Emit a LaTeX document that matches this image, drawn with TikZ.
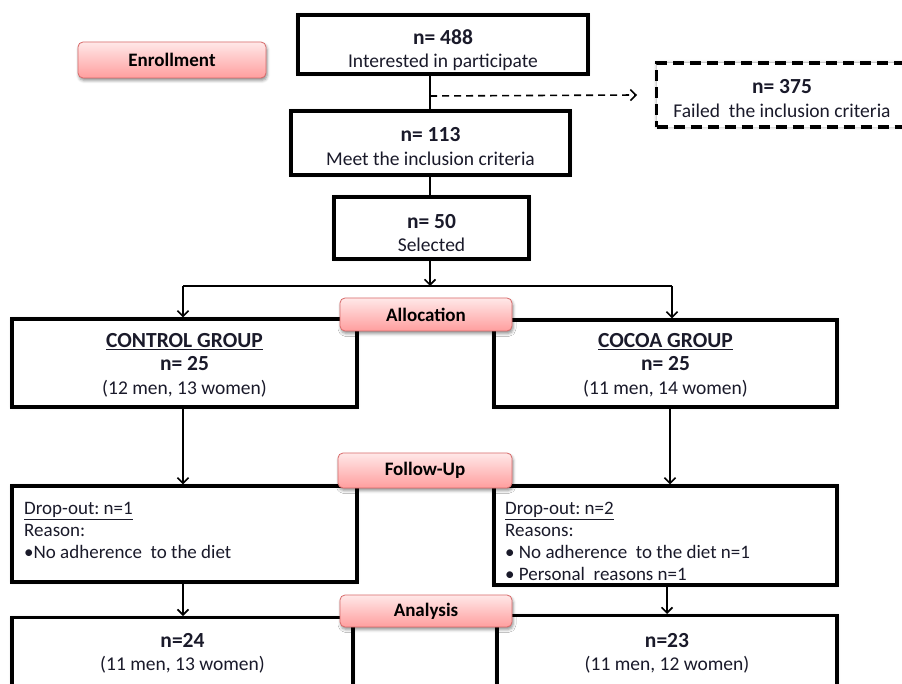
\documentclass[tikz,border=0pt]{standalone}
\usepackage{fontspec}
\setmainfont{Carlito}
\usetikzlibrary{arrows.meta,shadows.blur}
\frenchspacing

\definecolor{pillTop}{HTML}{FFE8E8}
\definecolor{pillBot}{HTML}{FF9E9E}
\definecolor{pillLine}{HTML}{D86A6A}
\definecolor{txt}{HTML}{1A1A2A}

\newcommand{\bignum}[1]{{\fontsize{21.5}{23}\selectfont\bfseries #1}}

\tikzset{
  stagebox/.style={draw, line width=3.3pt, fill=white, inner sep=0pt,
    blur shadow={shadow xshift=0pt, shadow yshift=0pt, shadow blur radius=3pt, shadow opacity=35}},
  failbox/.style={stagebox, dash pattern=on 11pt off 6pt},
  pill/.style={draw=pillLine, line width=0.8pt, rounded corners=5pt,
    top color=pillTop, bottom color=pillBot, inner sep=0pt,
    font=\bfseries\fontsize{19}{22}\selectfont,
    blur shadow={shadow xshift=1pt, shadow yshift=-2.5pt, shadow blur radius=3pt, shadow opacity=45}},
  droptext/.style={anchor=north west, align=left, inner sep=0pt, text=txt,
    font=\fontsize{19}{22}\selectfont},
  plaintext/.style={text=txt, inner sep=0pt, align=center, font=\fontsize{19.5}{23.5}\selectfont},
  link/.style={line width=1.6pt},
  arr/.style={link, -{Straight Barb[length=5.5pt,width=11pt,line width=1.6pt]}},
}

\begin{document}
\begin{tikzpicture}[x=1pt,y=-1pt]
\useasboundingbox (0,0) rectangle (902,684);

% enrollment stage
\node[stagebox, minimum width=290pt, minimum height=59pt] (b488) at (443,44.5) {};
\node[plaintext] (b488t) at (443,50) {\bignum{n= 488}\\Interested in participate};
\node[failbox, minimum width=262pt, minimum height=64pt, anchor=west] (b375) at (655,95) {};
\node[plaintext] (b375t) at (782,98.5) {\bignum{n= 375}\\Failed\ \ the inclusion criteria};
\node[stagebox, minimum width=279pt, minimum height=64pt] (b113) at (430.5,143) {};
\node[plaintext] (b113t) at (430.5,146.5) {\bignum{n= 113}\\Meet the inclusion criteria};
\node[stagebox, minimum width=195pt, minimum height=62pt] (b50) at (431.5,228) {};
\node[plaintext] (b50t) at (431.5,233) {\bignum{n= 50}\\Selected};

% allocation
\node[stagebox, minimum width=345pt, minimum height=88pt] (ctrl) at (184.5,363) {};
\node[plaintext] (ctrlt) at (184.5,365)
  {\bignum{\underline{CONTROL GROUP}}\\\bignum{n= 25}\\(12 men, 13 women)};
\node[stagebox, minimum width=343pt, minimum height=87pt] (coc) at (665.5,363.5) {};
\node[plaintext] (coct) at (665.5,365)
  {\bignum{\underline{COCOA GROUP}}\\\bignum{n= 25}\\(11 men, 14 women)};

% follow-up
\node[stagebox, minimum width=345pt, minimum height=96pt] (d1) at (184.5,534) {};
\node[droptext] (d1t) at (24,502)
  {\underline{Drop-out: n=1}\\Reason:\\\textbullet No adherence\ \ to the diet};
\node[stagebox, minimum width=343pt, minimum height=99pt] (d2) at (665.5,535.5) {};
\node[droptext] (d2t) at (505,502)
  {\underline{Drop-out: n=2}\\Reasons:\\\textbullet\ No adherence\ \ to the diet n=1\\\textbullet\ Personal\ \ reasons n=1};

% analysis
\node[stagebox, minimum width=341pt, minimum height=110pt, anchor=north] (a24) at (182.5,616) {};
\node[plaintext] (a24t) at (182.5,653.5)
  {\bignum{n=24}\\(11 men, 13 women)};
\node[stagebox, minimum width=340pt, minimum height=110pt, anchor=north] (a23) at (667,614) {};
\node[plaintext] (a23t) at (667,653.5)
  {\bignum{n=23}\\(11 men, 12 women)};

% connectors
\coordinate (fork) at (430,286);
\coordinate (forkL) at (183,286);
\coordinate (forkR) at (672,286);
\coordinate (side) at (430,96);
\draw[link] (b488.south -| side) -- (b113.north -| side);
\draw[arr, dash pattern=on 7pt off 5pt] (side) -- ([xshift=-18pt]b375.west);
\draw[link] (b113.south -| side) -- (b50.north -| side);
\draw[arr] (b50.south -| fork) -- (fork);
\draw[link] (forkL) -- (forkR);
\draw[arr] (forkL) -- (forkL |- ctrl.north);
\draw[arr] (forkR) -- (forkR |- coc.north);
\draw[arr] ([xshift=-1.5pt]ctrl.south) -- ([xshift=-1.5pt]d1.north);
\draw[arr] ([xshift=4.5pt]coc.south) -- ([xshift=4.5pt]d2.north);
\draw[arr] ([xshift=-1.5pt]d1.south) -- ([xshift=-1.5pt]d1.south |- a24.north);
\draw[arr] (d2.south -| a23) -- (a23.north);

% stage labels
\node[pill, minimum width=188pt, minimum height=36pt] (enr) at (172,60) {Enrollment};
\node[pill, minimum width=172pt, minimum height=33pt] (alloc) at (426,314.5) {Allocation};
\node[pill, minimum width=174pt, minimum height=35pt] (fup) at (425,470.5) {Follow-Up};
\node[pill, minimum width=172pt, minimum height=32pt] (ana) at (426,611) {Analysis};
\end{tikzpicture}
\end{document}
